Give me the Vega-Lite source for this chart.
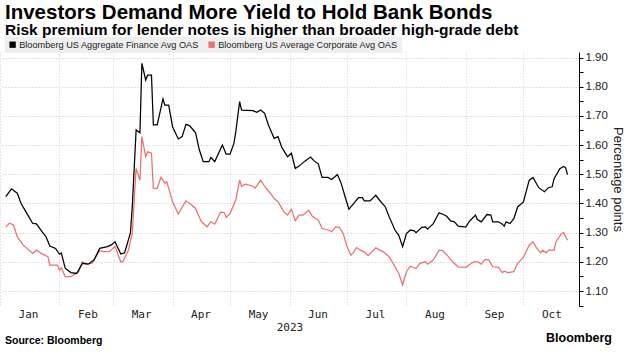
{
  "$schema": "https://vega.github.io/schema/vega-lite/v6.json",
  "width": 579,
  "height": 254,
  "autosize": {"type": "none"},
  "padding": {"left": 0, "top": 52, "right": 50, "bottom": 50},
  "background": "white",
  "title": {
    "text": "Investors Demand More Yield to Hold Bank Bonds",
    "subtitle": "Risk premium for lender notes is higher than broader high-grade debt",
    "anchor": "start",
    "frame": "group",
    "dx": 5,
    "dy": 5,
    "font": "Liberation Sans",
    "fontSize": 20.5,
    "fontWeight": "bold",
    "color": "#000000",
    "subtitleFont": "Liberation Sans",
    "subtitleFontSize": 15.5,
    "subtitleFontWeight": "bold",
    "subtitleColor": "#000000",
    "subtitlePadding": -1,
    "offset": 4
  },
  "datasets": {
    "finance": [
      {"date": "2023-01-04", "oas": 1.423}, {"date": "2023-01-07", "oas": 1.45}, {"date": "2023-01-10", "oas": 1.435},
      {"date": "2023-01-12", "oas": 1.40}, {"date": "2023-01-15", "oas": 1.366}, {"date": "2023-01-18", "oas": 1.332},
      {"date": "2023-01-20", "oas": 1.33}, {"date": "2023-01-23", "oas": 1.303}, {"date": "2023-01-25", "oas": 1.286},
      {"date": "2023-01-27", "oas": 1.254}, {"date": "2023-01-30", "oas": 1.246}, {"date": "2023-02-01", "oas": 1.226},
      {"date": "2023-02-02", "oas": 1.23}, {"date": "2023-02-04", "oas": 1.178}, {"date": "2023-02-07", "oas": 1.163},
      {"date": "2023-02-10", "oas": 1.16}, {"date": "2023-02-13", "oas": 1.195}, {"date": "2023-02-16", "oas": 1.192},
      {"date": "2023-02-19", "oas": 1.206}, {"date": "2023-02-22", "oas": 1.246}, {"date": "2023-02-26", "oas": 1.252},
      {"date": "2023-02-28", "oas": 1.258}, {"date": "2023-03-02", "oas": 1.269}, {"date": "2023-03-05", "oas": 1.227},
      {"date": "2023-03-07", "oas": 1.231}, {"date": "2023-03-10", "oas": 1.298}, {"date": "2023-03-11", "oas": 1.389},
      {"date": "2023-03-13", "oas": 1.652}, {"date": "2023-03-15", "oas": 1.642}, {"date": "2023-03-16", "oas": 1.88},
      {"date": "2023-03-18", "oas": 1.823}, {"date": "2023-03-19", "oas": 1.84}, {"date": "2023-03-21", "oas": 1.84},
      {"date": "2023-03-22", "oas": 1.669}, {"date": "2023-03-24", "oas": 1.669}, {"date": "2023-03-27", "oas": 1.758},
      {"date": "2023-03-28", "oas": 1.737}, {"date": "2023-03-30", "oas": 1.737}, {"date": "2023-04-01", "oas": 1.663},
      {"date": "2023-04-04", "oas": 1.621}, {"date": "2023-04-06", "oas": 1.629}, {"date": "2023-04-08", "oas": 1.671},
      {"date": "2023-04-10", "oas": 1.666}, {"date": "2023-04-13", "oas": 1.642}, {"date": "2023-04-15", "oas": 1.583},
      {"date": "2023-04-17", "oas": 1.543}, {"date": "2023-04-20", "oas": 1.543}, {"date": "2023-04-21", "oas": 1.558},
      {"date": "2023-04-23", "oas": 1.543}, {"date": "2023-04-25", "oas": 1.572}, {"date": "2023-04-27", "oas": 1.60},
      {"date": "2023-04-29", "oas": 1.569}, {"date": "2023-05-01", "oas": 1.569}, {"date": "2023-05-03", "oas": 1.606},
      {"date": "2023-05-04", "oas": 1.646}, {"date": "2023-05-06", "oas": 1.749}, {"date": "2023-05-07", "oas": 1.72},
      {"date": "2023-05-13", "oas": 1.718}, {"date": "2023-05-15", "oas": 1.712}, {"date": "2023-05-17", "oas": 1.72},
      {"date": "2023-05-19", "oas": 1.709}, {"date": "2023-05-21", "oas": 1.669}, {"date": "2023-05-24", "oas": 1.623},
      {"date": "2023-05-26", "oas": 1.629}, {"date": "2023-05-28", "oas": 1.592}, {"date": "2023-05-31", "oas": 1.56},
      {"date": "2023-06-02", "oas": 1.572}, {"date": "2023-06-04", "oas": 1.52}, {"date": "2023-06-06", "oas": 1.528},
      {"date": "2023-06-09", "oas": 1.545}, {"date": "2023-06-12", "oas": 1.559}, {"date": "2023-06-14", "oas": 1.545},
      {"date": "2023-06-16", "oas": 1.536}, {"date": "2023-06-18", "oas": 1.489}, {"date": "2023-06-21", "oas": 1.489},
      {"date": "2023-06-23", "oas": 1.482}, {"date": "2023-06-26", "oas": 1.499}, {"date": "2023-06-28", "oas": 1.468},
      {"date": "2023-06-30", "oas": 1.423}, {"date": "2023-07-02", "oas": 1.38}, {"date": "2023-07-03", "oas": 1.388},
      {"date": "2023-07-07", "oas": 1.42}, {"date": "2023-07-09", "oas": 1.42}, {"date": "2023-07-10", "oas": 1.409},
      {"date": "2023-07-13", "oas": 1.409}, {"date": "2023-07-16", "oas": 1.428}, {"date": "2023-07-18", "oas": 1.411},
      {"date": "2023-07-21", "oas": 1.388}, {"date": "2023-07-23", "oas": 1.354}, {"date": "2023-07-26", "oas": 1.309},
      {"date": "2023-07-28", "oas": 1.291}, {"date": "2023-07-30", "oas": 1.252}, {"date": "2023-08-01", "oas": 1.297},
      {"date": "2023-08-03", "oas": 1.309}, {"date": "2023-08-05", "oas": 1.306}, {"date": "2023-08-06", "oas": 1.30},
      {"date": "2023-08-09", "oas": 1.318}, {"date": "2023-08-11", "oas": 1.32}, {"date": "2023-08-12", "oas": 1.312},
      {"date": "2023-08-15", "oas": 1.331}, {"date": "2023-08-18", "oas": 1.368}, {"date": "2023-08-20", "oas": 1.363},
      {"date": "2023-08-22", "oas": 1.356}, {"date": "2023-08-24", "oas": 1.34}, {"date": "2023-08-26", "oas": 1.337},
      {"date": "2023-08-28", "oas": 1.322}, {"date": "2023-08-31", "oas": 1.32}, {"date": "2023-09-01", "oas": 1.32},
      {"date": "2023-09-03", "oas": 1.34}, {"date": "2023-09-06", "oas": 1.36}, {"date": "2023-09-07", "oas": 1.345},
      {"date": "2023-09-09", "oas": 1.337}, {"date": "2023-09-12", "oas": 1.362}, {"date": "2023-09-14", "oas": 1.36},
      {"date": "2023-09-15", "oas": 1.337}, {"date": "2023-09-18", "oas": 1.337}, {"date": "2023-09-20", "oas": 1.329},
      {"date": "2023-09-21", "oas": 1.322}, {"date": "2023-09-22", "oas": 1.337}, {"date": "2023-09-24", "oas": 1.331},
      {"date": "2023-09-26", "oas": 1.348}, {"date": "2023-09-28", "oas": 1.388}, {"date": "2023-10-01", "oas": 1.405},
      {"date": "2023-10-04", "oas": 1.479}, {"date": "2023-10-06", "oas": 1.489}, {"date": "2023-10-09", "oas": 1.454},
      {"date": "2023-10-12", "oas": 1.44}, {"date": "2023-10-14", "oas": 1.454}, {"date": "2023-10-16", "oas": 1.457},
      {"date": "2023-10-17", "oas": 1.485}, {"date": "2023-10-20", "oas": 1.519}, {"date": "2023-10-22", "oas": 1.527},
      {"date": "2023-10-23", "oas": 1.523}, {"date": "2023-10-24", "oas": 1.499}
    ],
    "corporate": [
      {"date": "2023-01-04", "oas": 1.320}, {"date": "2023-01-06", "oas": 1.332}, {"date": "2023-01-08", "oas": 1.326},
      {"date": "2023-01-10", "oas": 1.286}, {"date": "2023-01-13", "oas": 1.258}, {"date": "2023-01-17", "oas": 1.235},
      {"date": "2023-01-18", "oas": 1.229}, {"date": "2023-01-20", "oas": 1.24}, {"date": "2023-01-23", "oas": 1.227},
      {"date": "2023-01-26", "oas": 1.218}, {"date": "2023-01-27", "oas": 1.189}, {"date": "2023-01-31", "oas": 1.189},
      {"date": "2023-02-01", "oas": 1.172}, {"date": "2023-02-02", "oas": 1.18}, {"date": "2023-02-04", "oas": 1.149},
      {"date": "2023-02-07", "oas": 1.149}, {"date": "2023-02-11", "oas": 1.166}, {"date": "2023-02-13", "oas": 1.20},
      {"date": "2023-02-15", "oas": 1.192}, {"date": "2023-02-18", "oas": 1.195}, {"date": "2023-02-22", "oas": 1.238},
      {"date": "2023-02-24", "oas": 1.235}, {"date": "2023-02-27", "oas": 1.235}, {"date": "2023-03-02", "oas": 1.252},
      {"date": "2023-03-05", "oas": 1.20}, {"date": "2023-03-06", "oas": 1.20}, {"date": "2023-03-09", "oas": 1.24},
      {"date": "2023-03-11", "oas": 1.298}, {"date": "2023-03-12", "oas": 1.412}, {"date": "2023-03-13", "oas": 1.52},
      {"date": "2023-03-15", "oas": 1.48}, {"date": "2023-03-16", "oas": 1.629}, {"date": "2023-03-18", "oas": 1.56},
      {"date": "2023-03-19", "oas": 1.577}, {"date": "2023-03-21", "oas": 1.572}, {"date": "2023-03-22", "oas": 1.452},
      {"date": "2023-03-24", "oas": 1.452}, {"date": "2023-03-26", "oas": 1.49}, {"date": "2023-03-28", "oas": 1.469},
      {"date": "2023-03-29", "oas": 1.475}, {"date": "2023-04-01", "oas": 1.406}, {"date": "2023-04-04", "oas": 1.364},
      {"date": "2023-04-08", "oas": 1.409}, {"date": "2023-04-10", "oas": 1.40}, {"date": "2023-04-13", "oas": 1.383},
      {"date": "2023-04-16", "oas": 1.338}, {"date": "2023-04-19", "oas": 1.32}, {"date": "2023-04-21", "oas": 1.338},
      {"date": "2023-04-23", "oas": 1.329}, {"date": "2023-04-26", "oas": 1.37}, {"date": "2023-04-28", "oas": 1.369},
      {"date": "2023-04-29", "oas": 1.352}, {"date": "2023-05-01", "oas": 1.366}, {"date": "2023-05-04", "oas": 1.412},
      {"date": "2023-05-06", "oas": 1.48}, {"date": "2023-05-07", "oas": 1.459}, {"date": "2023-05-09", "oas": 1.466},
      {"date": "2023-05-13", "oas": 1.459}, {"date": "2023-05-14", "oas": 1.452}, {"date": "2023-05-17", "oas": 1.48},
      {"date": "2023-05-19", "oas": 1.459}, {"date": "2023-05-22", "oas": 1.435}, {"date": "2023-05-24", "oas": 1.417},
      {"date": "2023-05-26", "oas": 1.406}, {"date": "2023-05-29", "oas": 1.372}, {"date": "2023-05-31", "oas": 1.36},
      {"date": "2023-06-02", "oas": 1.38}, {"date": "2023-06-04", "oas": 1.341}, {"date": "2023-06-06", "oas": 1.36},
      {"date": "2023-06-08", "oas": 1.36}, {"date": "2023-06-11", "oas": 1.377}, {"date": "2023-06-13", "oas": 1.355},
      {"date": "2023-06-16", "oas": 1.343}, {"date": "2023-06-18", "oas": 1.314}, {"date": "2023-06-21", "oas": 1.309},
      {"date": "2023-06-23", "oas": 1.303}, {"date": "2023-06-25", "oas": 1.32}, {"date": "2023-06-27", "oas": 1.318},
      {"date": "2023-06-29", "oas": 1.297}, {"date": "2023-07-01", "oas": 1.252}, {"date": "2023-07-03", "oas": 1.223},
      {"date": "2023-07-04", "oas": 1.229}, {"date": "2023-07-06", "oas": 1.249}, {"date": "2023-07-08", "oas": 1.24},
      {"date": "2023-07-10", "oas": 1.234}, {"date": "2023-07-12", "oas": 1.221}, {"date": "2023-07-16", "oas": 1.248},
      {"date": "2023-07-18", "oas": 1.24}, {"date": "2023-07-20", "oas": 1.234}, {"date": "2023-07-23", "oas": 1.217},
      {"date": "2023-07-25", "oas": 1.195}, {"date": "2023-07-28", "oas": 1.16}, {"date": "2023-07-30", "oas": 1.121},
      {"date": "2023-08-01", "oas": 1.166}, {"date": "2023-08-03", "oas": 1.185}, {"date": "2023-08-06", "oas": 1.177},
      {"date": "2023-08-08", "oas": 1.195}, {"date": "2023-08-11", "oas": 1.20}, {"date": "2023-08-12", "oas": 1.192},
      {"date": "2023-08-15", "oas": 1.206}, {"date": "2023-08-18", "oas": 1.24}, {"date": "2023-08-20", "oas": 1.238},
      {"date": "2023-08-23", "oas": 1.217}, {"date": "2023-08-25", "oas": 1.20}, {"date": "2023-08-28", "oas": 1.183},
      {"date": "2023-09-01", "oas": 1.181}, {"date": "2023-09-05", "oas": 1.20}, {"date": "2023-09-07", "oas": 1.20},
      {"date": "2023-09-09", "oas": 1.192}, {"date": "2023-09-11", "oas": 1.208}, {"date": "2023-09-13", "oas": 1.206},
      {"date": "2023-09-15", "oas": 1.183}, {"date": "2023-09-18", "oas": 1.181}, {"date": "2023-09-20", "oas": 1.163},
      {"date": "2023-09-21", "oas": 1.168}, {"date": "2023-09-23", "oas": 1.163}, {"date": "2023-09-26", "oas": 1.166},
      {"date": "2023-09-28", "oas": 1.195}, {"date": "2023-10-01", "oas": 1.215}, {"date": "2023-10-04", "oas": 1.257},
      {"date": "2023-10-06", "oas": 1.269}, {"date": "2023-10-08", "oas": 1.246}, {"date": "2023-10-10", "oas": 1.231},
      {"date": "2023-10-11", "oas": 1.24}, {"date": "2023-10-13", "oas": 1.231}, {"date": "2023-10-14", "oas": 1.24},
      {"date": "2023-10-17", "oas": 1.24}, {"date": "2023-10-18", "oas": 1.269}, {"date": "2023-10-21", "oas": 1.297},
      {"date": "2023-10-22", "oas": 1.30}, {"date": "2023-10-24", "oas": 1.274}
    ]
  },
  "layer": [
    {
      "data": {"name": "corporate"},
      "mark": {"type": "line", "strokeWidth": 1.25},
      "encoding": {
        "x": {
          "field": "date",
          "type": "temporal",
          "scale": {"type": "utc", "domain": ["2023-01-01", "2023-10-30"]},
          "axis": {
            "title": "2023",
            "orient": "bottom",
            "domain": false,
            "ticks": false,
            "values": [
              {"year": 2023, "month": 1, "date": 1, "utc": true},
              {"year": 2023, "month": 2, "date": 1, "utc": true},
              {"year": 2023, "month": 3, "date": 1, "utc": true},
              {"year": 2023, "month": 4, "date": 1, "utc": true},
              {"year": 2023, "month": 5, "date": 1, "utc": true},
              {"year": 2023, "month": 6, "date": 1, "utc": true},
              {"year": 2023, "month": 7, "date": 1, "utc": true},
              {"year": 2023, "month": 8, "date": 1, "utc": true},
              {"year": 2023, "month": 9, "date": 1, "utc": true},
              {"year": 2023, "month": 10, "date": 1, "utc": true}
            ],
            "labelExpr": "utcFormat(datum.value, '%b')",
            "labelOffset": 28,
            "labelAlign": "center",
            "labelFlush": false,
            "labelBound": false,
            "labelOverlap": false,
            "labelPadding": 2,
            "labelFont": "DejaVu Sans Mono",
            "labelFontSize": 11,
            "labelColor": "#222222",
            "titleFont": "DejaVu Sans Mono",
            "titleFontSize": 11,
            "titleFontWeight": "normal",
            "titleColor": "#222222",
            "titlePadding": 2,
            "gridColor": "#cfcfcf",
            "gridDash": [1, 2],
            "gridWidth": 1
          }
        },
        "y": {
          "field": "oas",
          "type": "quantitative",
          "scale": {"domain": [1.0486, 1.919], "nice": false, "zero": false},
          "axis": {
            "title": "Percentage points",
            "orient": "right",
            "tickCount": 17,
            "labelExpr": "round(datum.value * 100) % 10 == 0 ? format(datum.value, '.2f') : ''",
            "labelFont": "Liberation Sans",
            "labelFontSize": 11.5,
            "labelColor": "#222222",
            "labelPadding": 2,
            "labelFlush": false,
            "labelOverlap": false,
            "labelSeparation": 0,
            "domainColor": "#000000",
            "domainWidth": 1,
            "tickColor": "#000000",
            "tickSize": 4,
            "gridColor": "#c4c4c4",
            "gridDash": [1, 2],
            "gridOpacity": {"condition": {"test": "round(datum.value * 100) % 10 == 0", "value": 1}, "value": 0},
            "titleFont": "Liberation Sans",
            "titleFontSize": 13,
            "titleFontWeight": "normal",
            "titleColor": "#222222",
            "titleAngle": 90,
            "titlePadding": 3
          }
        },
        "color": {
          "datum": "Bloomberg US Average Corporate Avg OAS",
          "type": "nominal",
          "scale": {
            "domain": ["Bloomberg US Aggregate Finance Avg OAS", "Bloomberg US Average Corporate Avg OAS"],
            "range": ["#000000", "#ef6f6c"]
          },
          "legend": {
            "title": null,
            "orient": "none",
            "legendX": 5,
            "legendY": -15,
            "direction": "horizontal",
            "fillColor": "#efefef",
            "padding": 3,
            "symbolType": "square",
            "symbolSize": 40,
            "symbolStrokeWidth": 0,
            "labelFont": "Liberation Sans",
            "labelFontSize": 9.2,
            "labelColor": "#222222",
            "labelOffset": 2,
            "labelLimit": 300,
            "columnPadding": 7,
            "encode": {"symbols": {"update": {"fill": {"scale": "color", "field": "value"}, "fillOpacity": {"value": 1}}}}
          }
        }
      }
    },
    {
      "data": {"name": "finance"},
      "mark": {"type": "line", "strokeWidth": 1.25},
      "encoding": {
        "x": {"field": "date", "type": "temporal"},
        "y": {"field": "oas", "type": "quantitative", "axis": {"labelOverlap": false}},
        "color": {"datum": "Bloomberg US Aggregate Finance Avg OAS", "type": "nominal"}
      }
    },
    {
      "data": {"values": [{"t": "Source: Bloomberg"}]},
      "mark": {"type": "text", "align": "left", "baseline": "alphabetic", "font": "Liberation Sans", "fontWeight": "bold", "fontSize": 10.5, "color": "#000000"},
      "encoding": {"text": {"field": "t"}, "x": {"value": 5}, "y": {"value": 292}}
    },
    {
      "data": {"values": [{"t": "Bloomberg"}]},
      "mark": {"type": "text", "align": "right", "baseline": "alphabetic", "font": "Liberation Sans", "fontWeight": "bold", "fontSize": 12.5, "color": "#000000"},
      "encoding": {"text": {"field": "t"}, "x": {"value": 612}, "y": {"value": 290}}
    }
  ],
  "config": {
    "view": {"stroke": null},
    "axis": {"domainCap": "butt", "labelOverlap": false},
    "axisY": {"labelOverlap": false}
  }
}
